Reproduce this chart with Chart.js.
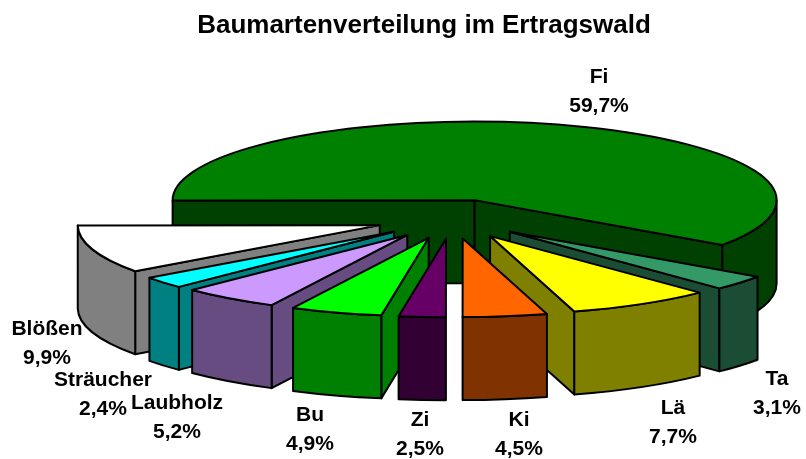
<!DOCTYPE html>
<html><head><meta charset="utf-8">
<style>html,body{margin:0;padding:0;background:#fff}canvas{display:block}</style>
<script src="https://cdn.jsdelivr.net/npm/chart.js@4"></script>
</head><body>
<div style="width:806px;height:459px"><canvas id="c" width="806" height="459"></canvas></div>
<script>
const titleText = 'Baumartenverteilung im Ertragswald';
const categories = ['Fi','Ta','Lä','Ki','Zi','Bu','Laubholz','Sträucher','Blößen'];
const shares = [59.7,3.1,7.7,4.5,2.5,4.9,5.2,2.4,9.9];
const shareLabels = ['59,7%','3,1%','7,7%','4,5%','2,5%','4,9%','5,2%','2,4%','9,9%'];
const topColors = ['#008000','#339966','#ffff00','#ff6600','#660066','#00ff00','#cc99ff','#00ffff','#ffffff'];
const sideColors = ['#004000','#1a4d33','#808000','#803300','#330033','#008000','#664c80','#008080','#808080'];

// layout of the tilted pie on the page
const view = {cx:452, cy:219, tilt:0.26, depth:83, radius:302, explode:76};
const labelAnchors = {Fi:[599,77],Ta:[777,379],'Lä':[673,408],Ki:[519,420],Zi:[420,420],Bu:[310,415],Laubholz:[177,403],'Sträucher':[103,380],'Blößen':[47,329]};
const labelLine = 29;

const tilted = {
  id:'tilted',
  beforeDatasetDraw(){ return false; },
  afterDatasetsDraw(chart){
    const ctx = chart.ctx, arcs = chart.getDatasetMeta(0).data, {tilt,depth} = view;
    const order = arcs.map((a,i)=>i).sort((p,q)=>{
      const m=a=>Math.sin((a.startAngle+a.endAngle)/2);
      return m(arcs[p])-m(arcs[q]);
    });
    ctx.save();
    ctx.lineWidth = 2; ctx.strokeStyle = '#000'; ctx.lineJoin = 'round';
    for(const i of order){
      const a = arcs[i], r = a.outerRadius, off = a.options.offset;
      const mid = (a.startAngle+a.endAngle)/2;
      const x = view.cx + Math.cos(mid)*off;
      const y = view.cy + Math.sin(mid)*off*tilt;
      const rim = t => [x+Math.cos(t)*r, y+Math.sin(t)*r*tilt];
      const shape = fn => { ctx.beginPath(); fn(); ctx.closePath(); ctx.fill(); ctx.stroke(); };
      ctx.fillStyle = sideColors[i];
      const faces = [[a.startAngle,-1],[a.endAngle,1]];
      for(const [t,side] of faces){
        if(Math.cos(t)*side <= 0.001) continue;   // face turned away from the viewer
        const p = rim(t);
        shape(()=>{ctx.moveTo(x,y);ctx.lineTo(p[0],p[1]);ctx.lineTo(p[0],p[1]+depth);ctx.lineTo(x,y+depth);});
      }
      const w0 = Math.max(a.startAngle,0), w1 = Math.min(a.endAngle,Math.PI);
      if(w1>w0){
        shape(()=>{
          ctx.ellipse(x,y,r,r*tilt,0,w0,w1);
          ctx.ellipse(x,y+depth,r,r*tilt,0,w1,w0,true);
        });
      }
      ctx.fillStyle = topColors[i];
      shape(()=>{ctx.moveTo(x,y);ctx.ellipse(x,y,r,r*tilt,0,a.startAngle,a.endAngle);});
    }
    ctx.fillStyle='#000'; ctx.font='bold 21px "Liberation Sans"'; ctx.textAlign='center'; ctx.textBaseline='middle';
    categories.forEach((n,i)=>{
      const [lx,ly]=labelAnchors[n];
      ctx.fillText(n,lx,ly);
      ctx.fillText(shareLabels[i],lx,ly+labelLine);
    });
    ctx.restore();
  }
};

new Chart(document.getElementById('c'),{
  type:'pie',
  data:{labels:categories,datasets:[{data:shares,backgroundColor:topColors,offset:view.explode,borderWidth:0}]},
  options:{
    responsive:false,animation:false,
    rotation:-90.25,radius:view.radius,
    layout:{padding:{left:42}},
    plugins:{
      legend:{display:false},tooltip:{enabled:false},
      title:{display:true,text:titleText,color:'#000',font:{family:'"Liberation Sans"',size:26,weight:'bold'},padding:{top:10,bottom:10}}
    }
  },
  plugins:[tilted]
});
</script>
</body></html>
